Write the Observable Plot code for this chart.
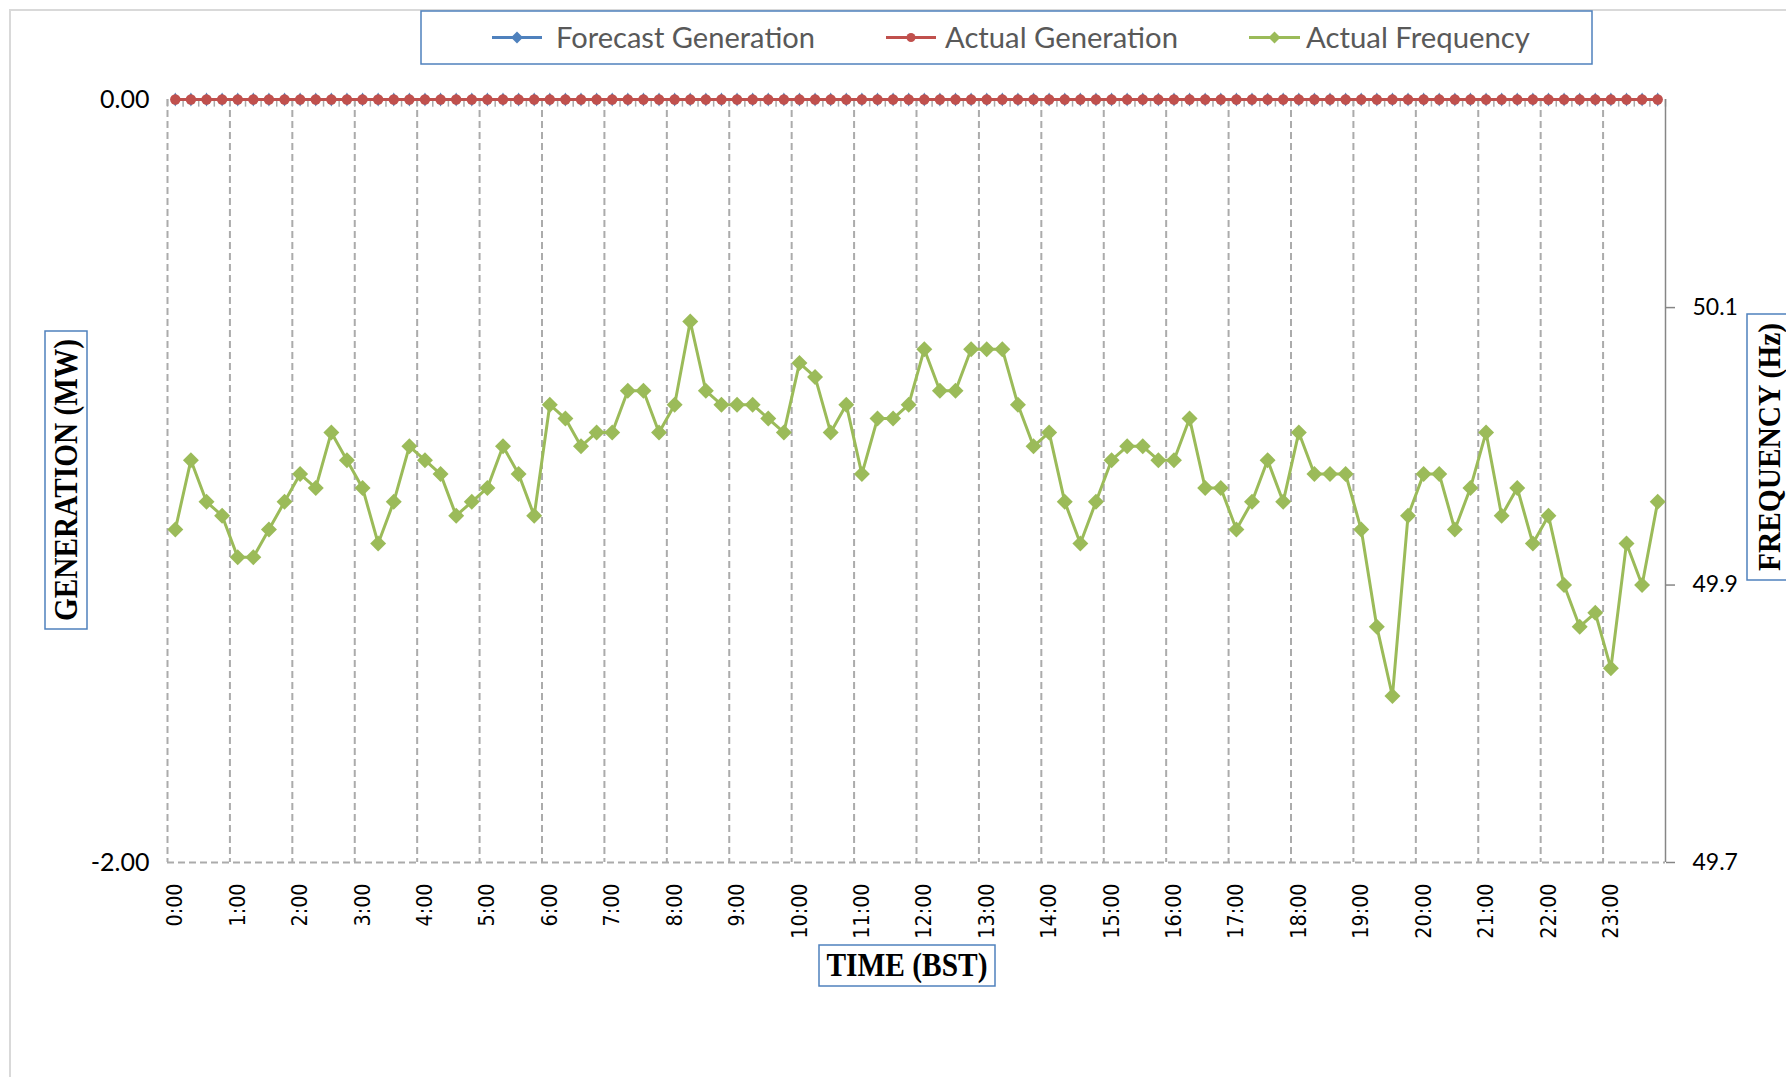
<!DOCTYPE html>
<html>
<head>
<meta charset="utf-8">
<script src="https://cdn.jsdelivr.net/npm/d3@7"></script>
<script src="https://cdn.jsdelivr.net/npm/@observablehq/plot@0.6"></script>
<style>
  html, body { margin: 0; padding: 0; background: #fff; }
  body { width: 1786px; height: 1077px; overflow: hidden; position: relative; }
  #chart { position: absolute; left: 0; top: 0; }
  #chart svg { display: block; }
  #overlay { position: absolute; left: 0; top: 0; pointer-events: none; }
</style>
</head>
<body>
<div id="chart"></div>
<svg id="overlay" width="1786" height="1077" xmlns="http://www.w3.org/2000/svg"></svg>
<script>
// ---------------- data ----------------
const hourLabels = ["0:00","1:00","2:00","3:00","4:00","5:00","6:00","7:00","8:00","9:00","10:00","11:00",
  "12:00","13:00","14:00","15:00","16:00","17:00","18:00","19:00","20:00","21:00","22:00","23:00"];

const timeSlots = [
  "0:00","0:15","0:30","0:45","1:00","1:15","1:30","1:45","2:00","2:15","2:30","2:45",
  "3:00","3:15","3:30","3:45","4:00","4:15","4:30","4:45","5:00","5:15","5:30","5:45",
  "6:00","6:15","6:30","6:45","7:00","7:15","7:30","7:45","8:00","8:15","8:30","8:45",
  "9:00","9:15","9:30","9:45","10:00","10:15","10:30","10:45","11:00","11:15","11:30","11:45",
  "12:00","12:15","12:30","12:45","13:00","13:15","13:30","13:45","14:00","14:15","14:30","14:45",
  "15:00","15:15","15:30","15:45","16:00","16:15","16:30","16:45","17:00","17:15","17:30","17:45",
  "18:00","18:15","18:30","18:45","19:00","19:15","19:30","19:45","20:00","20:15","20:30","20:45",
  "21:00","21:15","21:30","21:45","22:00","22:15","22:30","22:45","23:00","23:15","23:30","23:45"];

const forecastGeneration = [
  0,0,0,0,0,0,0,0,0,0,0,0, 0,0,0,0,0,0,0,0,0,0,0,0,
  0,0,0,0,0,0,0,0,0,0,0,0, 0,0,0,0,0,0,0,0,0,0,0,0,
  0,0,0,0,0,0,0,0,0,0,0,0, 0,0,0,0,0,0,0,0,0,0,0,0,
  0,0,0,0,0,0,0,0,0,0,0,0, 0,0,0,0,0,0,0,0,0,0,0,0];

const actualGeneration = [
  0,0,0,0,0,0,0,0,0,0,0,0, 0,0,0,0,0,0,0,0,0,0,0,0,
  0,0,0,0,0,0,0,0,0,0,0,0, 0,0,0,0,0,0,0,0,0,0,0,0,
  0,0,0,0,0,0,0,0,0,0,0,0, 0,0,0,0,0,0,0,0,0,0,0,0,
  0,0,0,0,0,0,0,0,0,0,0,0, 0,0,0,0,0,0,0,0,0,0,0,0];

const actualFrequency = [
  49.94,49.99,49.96,49.95, 49.92,49.92,49.94,49.96, 49.98,49.97,50.01,49.99,
  49.97,49.93,49.96,50.00, 49.99,49.98,49.95,49.96, 49.97,50.00,49.98,49.95,
  50.03,50.02,50.00,50.01, 50.01,50.04,50.04,50.01, 50.03,50.09,50.04,50.03,
  50.03,50.03,50.02,50.01, 50.06,50.05,50.01,50.03, 49.98,50.02,50.02,50.03,
  50.07,50.04,50.04,50.07, 50.07,50.07,50.03,50.00, 50.01,49.96,49.93,49.96,
  49.99,50.00,50.00,49.99, 49.99,50.02,49.97,49.97, 49.94,49.96,49.99,49.96,
  50.01,49.98,49.98,49.98, 49.94,49.87,49.82,49.95, 49.98,49.98,49.94,49.97,
  50.01,49.95,49.97,49.93, 49.95,49.90,49.87,49.88, 49.84,49.93,49.90,49.96];

const genDomain = [-2, 0];
const genTicks = [-2, 0];
const freqDomain = [49.7, 50.25];
const freqTicks = [49.7, 49.9, 50.1];

const seriesNames = ["Forecast Generation", "Actual Generation", "Actual Frequency"];
const seriesColors = ["#4F81BD", "#C0504D", "#9BBB59"];

// ---------------- helpers ----------------
// map frequency onto the generation (left) y scale
const toY = f => genDomain[0] + (f - freqDomain[0]) / (freqDomain[1] - freqDomain[0]) * (genDomain[1] - genDomain[0]);
const fromY = y => freqDomain[0] + (y - genDomain[0]) / (genDomain[1] - genDomain[0]) * (freqDomain[1] - freqDomain[0]);

const rows = timeSlots.map((t, i) => ({
  i, t,
  fg: forecastGeneration[i],
  ag: actualGeneration[i],
  f: actualFrequency[i]
}));

const n = timeSlots.length;
const allBoundaries = d3.range(0, n + 1).map(k => k - 0.5);
const hourBoundaries = d3.range(0, n, 4).map(k => k - 0.5);
const hourTickPos = d3.range(0, n, 4);

const gridColor = "#ABABAB";
const dash = "7,4";

const chart = Plot.plot({
  width: 1786,
  height: 1077,
  marginLeft: 167,
  marginRight: 121,
  marginTop: 99,
  marginBottom: 215,
  x: { type: "linear", domain: [-0.5, n - 0.5] },
  y: { domain: genDomain },
  style: { background: "transparent", color: "#000", overflow: "visible" },
  marks: [
    // vertical dashed gridlines every hour
    Plot.ruleX(hourBoundaries, { stroke: gridColor, strokeWidth: 2, strokeDasharray: dash }),
    // horizontal dashed gridline at -2
    Plot.ruleY([genDomain[0]], { stroke: gridColor, strokeWidth: 2, strokeDasharray: dash }),
    // category tick marks along the top (axis crossing at 0)
    Plot.ruleX(allBoundaries, { y1: 0, y2: -0.02, stroke: gridColor, strokeWidth: 1.5 }),
    // secondary axis line
    Plot.ruleX([n - 0.5], { stroke: "#868686", strokeWidth: 1.5 }),
    // left axis
    Plot.axisY({
      anchor: "left", ticks: genTicks, tickFormat: d => d.toFixed(2),
      tickSize: 0, tickPadding: 18, label: null,
      fontSize: 25, fontFamily: "Lato", fill: "#000"
    }),
    // right axis (frequency)
    Plot.axisY({
      anchor: "right", ticks: freqTicks.map(toY), tickFormat: y => fromY(y).toFixed(1),
      tickSize: 9, tickPadding: 18, label: null, stroke: "#868686", strokeWidth: 1.5,
      fontSize: 23, fontFamily: "Lato", fill: "#000"
    }),
    // bottom axis labels
    Plot.axisX({
      anchor: "bottom", ticks: hourTickPos, tickFormat: i => hourLabels[i / 4],
      tickRotate: -90, tickSize: 0, tickPadding: 21, label: null,
      fontSize: 22, fontFamily: "DejaVu Sans", fill: "#000"
    }),
    // Forecast Generation
    Plot.line(rows, { x: "i", y: "fg", stroke: seriesColors[0], strokeWidth: 3 }),
    Plot.dot(rows, { x: "i", y: "fg", symbol: "diamond", r: 4.3, fill: seriesColors[0], stroke: "none" }),
    // Actual Generation
    Plot.line(rows, { x: "i", y: "ag", stroke: seriesColors[1], strokeWidth: 3 }),
    Plot.dot(rows, { x: "i", y: "ag", symbol: "circle", r: 5.2, fill: seriesColors[1], stroke: "none" }),
    // Actual Frequency
    Plot.line(rows, { x: "i", y: d => toY(d.f), stroke: seriesColors[2], strokeWidth: 3 }),
    Plot.dot(rows, { x: "i", y: d => toY(d.f), symbol: "diamond2", r: 7.2, fill: seriesColors[2], stroke: "none" })
  ]
});
document.getElementById("chart").appendChild(chart);

// condense the x tick labels a little (narrow rendering in the original)
d3.select(chart).selectAll('[aria-label="x-axis tick label"] text').each(function () {
  const L = this.getComputedTextLength();
  if (L > 0) {
    this.setAttribute("textLength", (L * 0.87).toFixed(1));
    this.setAttribute("lengthAdjust", "spacingAndGlyphs");
  }
});

// ---------------- overlay: chart frame, legend, axis titles ----------------
const ov = d3.select("#overlay");

// chart area frame (only top/left visible in the crop)
ov.append("rect").attr("x", 10).attr("y", 10).attr("width", 2000).attr("height", 2000)
  .attr("fill", "none").attr("stroke", "#D9D9D9").attr("stroke-width", 2);

// legend box
ov.append("rect").attr("x", 421).attr("y", 11).attr("width", 1171).attr("height", 53)
  .attr("fill", "#fff").attr("stroke", "#4F81BD").attr("stroke-width", 1.5);

const legendItems = [
  { name: seriesNames[0], color: seriesColors[0], x0: 492, x1: 542, tx: 556, tw: 259, marker: "diamond" },
  { name: seriesNames[1], color: seriesColors[1], x0: 886, x1: 936, tx: 945, tw: 233, marker: "circle" },
  { name: seriesNames[2], color: seriesColors[2], x0: 1249, x1: 1300, tx: 1306, tw: 224, marker: "diamond" }
];
const ly = 37.5;
legendItems.forEach(it => {
  ov.append("line").attr("x1", it.x0).attr("x2", it.x1).attr("y1", ly).attr("y2", ly)
    .attr("stroke", it.color).attr("stroke-width", 3);
  const cx = (it.x0 + it.x1) / 2;
  if (it.marker === "diamond") {
    const s = 6;
    ov.append("path").attr("d", `M${cx},${ly - s}L${cx + s},${ly}L${cx},${ly + s}L${cx - s},${ly}Z`).attr("fill", it.color);
  } else {
    ov.append("circle").attr("cx", cx).attr("cy", ly).attr("r", 4.5).attr("fill", it.color);
  }
  ov.append("text").attr("x", it.tx).attr("y", ly).attr("dy", "0.36em")
    .attr("font-family", "Lato").attr("font-size", 28).attr("fill", "#595959")
    .attr("textLength", it.tw).attr("lengthAdjust", "spacingAndGlyphs")
    .text(it.name);
});

// boxed axis titles
function boxedTitle(x, y, w, h, text, len, size, rotate) {
  ov.append("rect").attr("x", x).attr("y", y).attr("width", w).attr("height", h)
    .attr("fill", "#fff").attr("stroke", "#4F81BD").attr("stroke-width", 1.5);
  const cx = x + w / 2, cy = y + h / 2;
  ov.append("text")
    .attr("transform", `translate(${cx},${cy}) rotate(${rotate})`)
    .attr("text-anchor", "middle").attr("dy", "0.33em")
    .attr("font-family", "Liberation Serif, Times New Roman, serif").attr("font-weight", "bold")
    .attr("font-size", size).attr("fill", "#000")
    .attr("textLength", len).attr("lengthAdjust", "spacingAndGlyphs")
    .text(text);
}
boxedTitle(45, 331, 42, 298, "GENERATION (MW)", 282, 34, -90);
boxedTitle(1747, 314, 44, 266, "FREQUENCY (Hz)", 248, 32, -90);
boxedTitle(819, 945, 176, 41, "TIME (BST)", 161, 33, 0);
</script>
</body>
</html>
